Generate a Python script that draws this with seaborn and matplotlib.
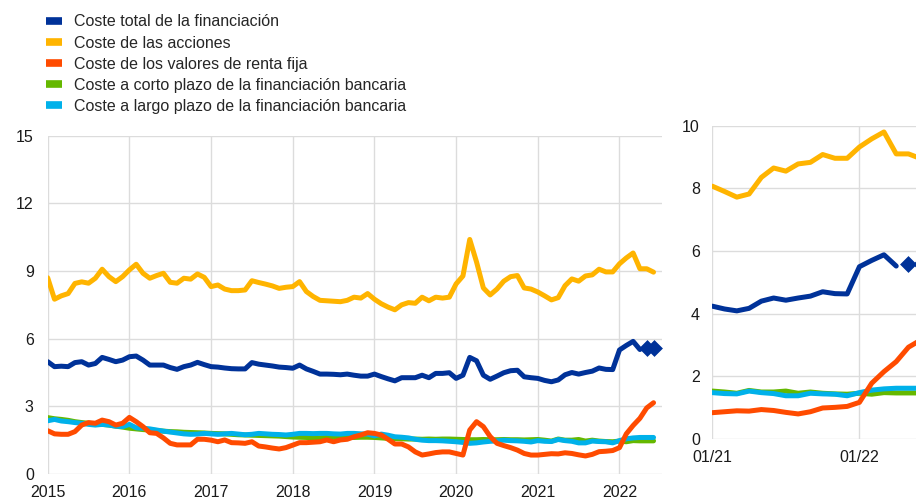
import numpy as np
import pandas as pd
import matplotlib
matplotlib.use("Agg")
import matplotlib.pyplot as plt
from matplotlib.lines import Line2D
import seaborn as sns

# ---- data (monthly, Jan 2015 - Jun 2022) ----
start_year = 2015
labels = [
    "Coste total de la financiación",
    "Coste de las acciones",
    "Coste de los valores de renta fija",
    "Coste a corto plazo de la financiación bancaria",
    "Coste a largo plazo de la financiación bancaria",
]
colors = ["#003299", "#FFB400", "#FF4B00", "#65B800", "#00B1EA"]

coste_total = [
    4.98, 4.76, 4.78, 4.76, 4.94, 4.98, 4.83, 4.90, 5.17, 5.08, 4.98, 5.05,
    5.20, 5.23, 5.05, 4.83, 4.83, 4.83, 4.72, 4.64, 4.76, 4.83, 4.95, 4.85,
    4.76, 4.74, 4.70, 4.67, 4.66, 4.66, 4.94, 4.87, 4.83, 4.79, 4.74, 4.72,
    4.69, 4.83, 4.66, 4.55, 4.43, 4.43, 4.42, 4.40, 4.43, 4.38, 4.34, 4.34,
    4.43, 4.32, 4.22, 4.13, 4.27, 4.27, 4.27, 4.38, 4.27, 4.46, 4.46, 4.49,
    4.24, 4.38, 5.17, 5.02, 4.38, 4.20, 4.34, 4.49, 4.58, 4.60, 4.31, 4.27,
    4.24, 4.15, 4.09, 4.17, 4.40, 4.50, 4.43, 4.50, 4.56, 4.70, 4.64, 4.63,
    5.50, 5.70, 5.88, 5.52, 5.60, 5.58,
]
coste_acciones = [
    8.70, 7.75, 7.90, 8.00, 8.45, 8.52, 8.46, 8.68, 9.08, 8.75, 8.53, 8.75,
    9.05, 9.30, 8.90, 8.68, 8.80, 8.90, 8.50, 8.46, 8.68, 8.64, 8.87, 8.72,
    8.31, 8.38, 8.20, 8.13, 8.13, 8.16, 8.57, 8.49, 8.42, 8.34, 8.23, 8.28,
    8.31, 8.53, 8.09, 7.87, 7.70, 7.68, 7.66, 7.64, 7.70, 7.84, 7.80, 8.00,
    7.75, 7.55, 7.40, 7.28, 7.50, 7.60, 7.57, 7.84, 7.68, 7.84, 7.80, 7.84,
    8.43, 8.78, 10.40, 9.40, 8.25, 7.94, 8.20, 8.55, 8.75, 8.80, 8.25, 8.20,
    8.07, 7.90, 7.72, 7.82, 8.35, 8.65, 8.55, 8.78, 8.83, 9.08, 8.96, 8.96,
    9.32, 9.58, 9.80, 9.10, 9.10, 8.95,
]
coste_renta_fija = [
    1.92, 1.78, 1.76, 1.76, 1.88, 2.17, 2.28, 2.25, 2.39, 2.32, 2.17, 2.25,
    2.51, 2.32, 2.10, 1.83, 1.80, 1.60, 1.36, 1.29, 1.29, 1.29, 1.54, 1.54,
    1.50, 1.43, 1.51, 1.39, 1.38, 1.36, 1.43, 1.24, 1.20, 1.15, 1.11, 1.17,
    1.28, 1.39, 1.39, 1.41, 1.43, 1.51, 1.43, 1.51, 1.54, 1.65, 1.73, 1.83,
    1.80, 1.73, 1.54, 1.33, 1.33, 1.20, 0.98, 0.84, 0.89, 0.95, 0.98, 0.98,
    0.91, 0.84, 1.95, 2.32, 2.10, 1.66, 1.36, 1.26, 1.17, 1.06, 0.91, 0.84,
    0.84, 0.87, 0.90, 0.89, 0.94, 0.91, 0.85, 0.80, 0.87, 0.99, 1.01, 1.04,
    1.17, 1.78, 2.15, 2.47, 2.93, 3.16,
]
coste_corto_plazo = [
    2.50, 2.45, 2.42, 2.38, 2.32, 2.28, 2.25, 2.22, 2.20, 2.17, 2.12, 2.08,
    2.03, 2.00, 1.97, 1.95, 1.93, 1.90, 1.88, 1.87, 1.85, 1.84, 1.83, 1.82,
    1.80, 1.79, 1.78, 1.76, 1.74, 1.73, 1.72, 1.71, 1.70, 1.69, 1.68, 1.66,
    1.64, 1.63, 1.62, 1.60, 1.60, 1.62, 1.63, 1.62, 1.63, 1.62, 1.63, 1.63,
    1.62, 1.60, 1.58, 1.57, 1.56, 1.55, 1.55, 1.54, 1.55, 1.54, 1.55, 1.55,
    1.54, 1.53, 1.52, 1.52, 1.53, 1.52, 1.52, 1.53, 1.52, 1.52, 1.51, 1.52,
    1.53, 1.50, 1.46, 1.55, 1.50, 1.50, 1.53, 1.46, 1.50, 1.46, 1.44, 1.43,
    1.46, 1.43, 1.48, 1.47, 1.47, 1.47,
]
coste_largo_plazo = [
    2.36, 2.42, 2.35, 2.32, 2.28, 2.25, 2.20, 2.17, 2.20, 2.17, 2.12, 2.10,
    2.20, 2.05, 2.03, 2.00, 1.95, 1.90, 1.86, 1.82, 1.78, 1.76, 1.77, 1.80,
    1.78, 1.76, 1.78, 1.80, 1.77, 1.74, 1.76, 1.80, 1.78, 1.76, 1.75, 1.73,
    1.76, 1.80, 1.80, 1.79, 1.80, 1.80, 1.78, 1.77, 1.80, 1.80, 1.78, 1.77,
    1.69, 1.77, 1.72, 1.65, 1.63, 1.60, 1.54, 1.50, 1.48, 1.48, 1.47, 1.45,
    1.43, 1.40, 1.36, 1.38, 1.42, 1.45, 1.47, 1.50, 1.48, 1.47, 1.45, 1.42,
    1.48, 1.45, 1.44, 1.53, 1.48, 1.45, 1.38, 1.38, 1.46, 1.44, 1.43, 1.38,
    1.48, 1.56, 1.60, 1.62, 1.62, 1.62,
]
n_estimated = 2  # last two points of total cost shown as diamonds

left_yticks = [0, 3, 6, 9, 12, 15]
left_xticks = [2015, 2016, 2017, 2018, 2019, 2020, 2021, 2022]
right_yticks = [0, 2, 4, 6, 8, 10]
right_xticks = [2021, 2022]
right_xticklabels = ["01/21", "01/22"]

# ---- build frame ----
n = len(coste_total)
x = start_year + np.arange(n) / 12.0
df = pd.DataFrame({
    "x": x,
    labels[0]: coste_total,
    labels[1]: coste_acciones,
    labels[2]: coste_renta_fija,
    labels[3]: coste_corto_plazo,
    labels[4]: coste_largo_plazo,
})

sns.set_theme(style="white")
plt.rcParams["font.family"] = ["Liberation Sans", "DejaVu Sans"]

W, H = 916, 499
fig = plt.figure(figsize=(W / 100, H / 100), dpi=100)

def px_axes(l, r, t, b):
    return [l / W, 1 - b / H, (r - l) / W, (b - t) / H]

ax1 = fig.add_axes(px_axes(47.7, 661.7, 135.7, 474))
ax2 = fig.add_axes(px_axes(712.3, 933.0, 125.7, 439))

order = [3, 4, 2, 1, 0]  # drawing order (green, cyan, orange, yellow, blue on top)
lw = 3.6
grid_c = "#dcdcdc"

def draw(ax, sub):
    for i in order:
        lab = labels[i]
        if i == 0:
            line = sub.iloc[: len(sub) - n_estimated]
            est = sub.iloc[len(sub) - n_estimated:]
            sns.lineplot(data=line, x="x", y=lab, ax=ax, color=colors[i], lw=lw,
                         legend=False, zorder=5)
            sns.scatterplot(data=est, x="x", y=lab, ax=ax, color=colors[i], marker="D",
                            s=65, edgecolor=colors[i], linewidth=0.5, legend=False,
                            zorder=6)
        else:
            sns.lineplot(data=sub, x="x", y=lab, ax=ax, color=colors[i], lw=lw,
                         legend=False, zorder=3 + (i == 1))

def style(ax, xlim, ylim, xt, xtl, yt, xpad, ypad):
    ax.set_xticks(xt)
    ax.set_xticklabels(xtl)
    ax.set_yticks(yt)
    ax.set_xlim(*xlim)
    ax.set_ylim(*ylim)
    ax.set_xlabel("")
    ax.set_ylabel("")
    for s in ax.spines.values():
        s.set_visible(False)
    ax.grid(True, color=grid_c, lw=1.0)
    ax.set_axisbelow(True)
    ax.tick_params(axis="both", length=0, labelsize=11.5, colors="#1a1a1a")
    ax.tick_params(axis="x", pad=xpad)
    ax.tick_params(axis="y", pad=ypad)

draw(ax1, df)
style(ax1, (2015, 2015 + 90.2 / 12), (0, 15), left_xticks,
      [str(v) for v in left_xticks], left_yticks, 8, 10)

sub = df[df["x"] >= 2021 - 1e-9].reset_index(drop=True)
draw(ax2, sub)
style(ax2, (2021, 2022.5), (0, 10), right_xticks, right_xticklabels, right_yticks, 8, 9)

handles = [Line2D([0], [0], color=c, lw=5.5, solid_capstyle="butt") for c in colors]
fig.legend(handles, labels, loc="upper left",
           bbox_to_anchor=(46 / W, 1 - 14.5 / H), frameon=False,
           fontsize=11.5, handlelength=1.0, handletextpad=0.75,
           labelspacing=0.38, borderpad=0, borderaxespad=0)

fig.savefig("out.png", dpi=100)
